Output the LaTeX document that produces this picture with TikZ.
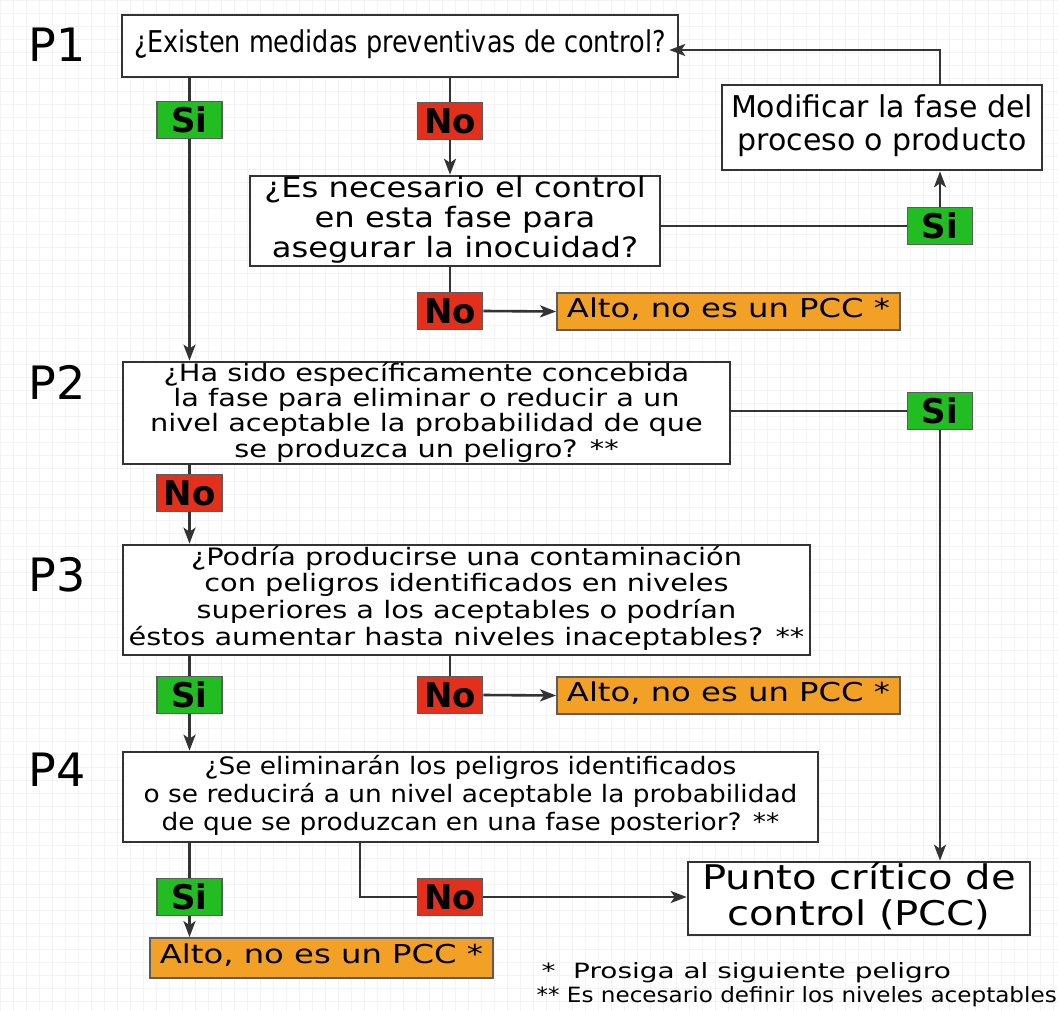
\documentclass[tikz,border=0pt]{standalone}
\usepackage{fontspec}
\usepackage{graphicx}
\setmainfont{DejaVu Sans}
\usetikzlibrary{arrows.meta}

\definecolor{linec}{HTML}{333333}
\definecolor{sigreen}{HTML}{22BD22}
\definecolor{nored}{HTML}{E2301C}
\definecolor{altoor}{HTML}{F2A126}
\definecolor{gridc}{HTML}{F3F3F3}

% horizontally scaled, centred block of lines
\newcommand\blk[4]{\scalebox{#1}[1]{\fontsize{#2}{#3}\selectfont\begin{tabular}{@{}c@{}}#4\end{tabular}}}

\tikzset{
  qbox/.style={draw=linec, line width=2.6pt, fill=white, inner sep=0pt},
  sz/.style 2 args={minimum width=#1, minimum height=#2},
  tag/.style={draw=linec!80, line width=1.6pt, inner sep=0pt,
    minimum width=65pt, minimum height=37pt,
    font=\fontsize{34}{34}\selectfont\bfseries},
  sitag/.style={tag, fill=sigreen},
  notag/.style={tag, fill=nored},
  altobox/.style={draw=linec!80, line width=1.8pt, fill=altoor, inner sep=0pt,
    minimum width=343pt, minimum height=37pt},
  plabel/.style={font=\fontsize{46}{46}\selectfont},
  conn/.style={draw=linec, line width=2.6pt},
  arr/.style={conn, -{Stealth[length=16pt, width=12pt, inset=4pt]}}
}

\begin{document}
\begin{tikzpicture}[x=1pt, y=-1pt]
\useasboundingbox (0,0) rectangle (1058,1011);
\fill[white] (0,0) rectangle (1058,1011);
\draw[gridc, line width=0.6pt] (0,0) grid[step=13pt] (1058,1011);

% question labels
\node[plabel] (p1) at (57,45) {P1};
\node[plabel] (p2) at (57,382) {P2};
\node[plabel] (p3) at (57,575) {P3};
\node[plabel] (p4) at (57,770) {P4};

% question and action boxes
\node[qbox, sz={556pt}{62pt}] (q1) at (400,46)
  {\blk{0.85}{30}{30}{¿Existen medidas preventivas de control?}};
\node[qbox, sz={320pt}{85pt}] (mod) at (882,127.5)
  {\blk{1}{30}{33}{Modificar la fase del\\proceso o producto}};
\node[qbox, sz={410pt}{88pt}] (q1b) at (455,221)
  {\blk{1.15}{28}{29}{¿Es necesario el control\\en esta fase para\\asegurar la inocuidad?}};
\node[qbox, sz={607pt}{100pt}] (q2) at (426.5,413)
  {\blk{1.2}{24}{23.5}{¿Ha sido específicamente concebida\\la fase para eliminar o reducir a un\\nivel aceptable la probabilidad de que\\se produzca un peligro? **}};
\node[qbox, sz={687pt}{110pt}] (q3) at (466.5,600)
  {\blk{1.2}{24}{26}{¿Podría producirse una contaminación\\con peligros identificados en niveles\\superiores a los aceptables o podrían\\éstos aumentar hasta niveles inaceptables? **}};
\node[qbox, sz={695pt}{90pt}] (q4) at (470.5,797)
  {\blk{1.1}{24}{28}{¿Se eliminarán los peligros identificados\\o se reducirá a un nivel aceptable la probabilidad\\de que se produzcan en una fase posterior? **}};
\node[qbox, sz={342pt}{73pt}] (pcc) at (859,898.5)
  {\blk{1.18}{34}{33}{Punto crítico de\\control (PCC)}};

% stop boxes
\node[altobox] (alto1) at (728.5,311.5) {\blk{1.24}{26}{26}{Alto, no es un PCC *}};
\node[altobox] (alto2) at (728.5,695.5) {\blk{1.24}{26}{26}{Alto, no es un PCC *}};
\node[altobox, minimum height=40pt] (alto3) at (321.5,958) {\blk{1.24}{26}{26}{Alto, no es un PCC *}};

% answer tags
\node[sitag] (siA) at (189.5,120) {Si};
\node[notag] (noA) at (450,121) {No};
\node[sitag] (siB) at (940,226) {Si};
\node[notag] (noB) at (450,311) {No};
\node[sitag] (siC) at (940,411) {Si};
\node[notag] (noC) at (189.5,493) {No};
\node[sitag] (siD) at (189.5,695) {Si};
\node[notag] (noD) at (450,695) {No};
\node[sitag] (siE) at (189.5,897) {Si};
\node[notag] (noE) at (450,897) {No};

\coordinate (bend) at (360,897);

% connectors
\draw[conn] (q1.south -| siA) -- (siA.north);
\draw[arr] (siA.south) -- (siA |- q2.north);
\draw[conn] (q1.south -| noA) -- (noA.north);
\draw[arr] (noA.south) -- (noA |- q1b.north);
\draw[conn] (q1b.east |- siB) -- (siB.west);
\draw[arr] (siB.north) -- (siB |- mod.south);
\draw[arr] (mod.north -| siB) |- ([xshift=-10pt,yshift=-4pt]q1.east);
\draw[conn] (q1b.south -| noB) -- (noB.north);
\draw[arr] (noB.east) -- (alto1.west);

\draw[conn] (q2.east |- siC) -- (siC.west);
\draw[arr] (siC.south) -- (siC |- pcc.north);
\draw[conn] (q2.south -| noC) -- (noC.north);
\draw[arr] (noC.south) -- (noC |- q3.north);

\draw[conn] (q3.south -| siD) -- (siD.north);
\draw[arr] (siD.south) -- (siD |- q4.north);
\draw[conn] (q3.south -| noD) -- (noD.north);
\draw[arr] (noD.east) -- (alto2.west);

\draw[conn] (q4.south -| siE) -- (siE.north);
\draw[arr] (siE.south) -- (siE |- alto3.north);
\draw[conn] (q4.south -| bend) |- (noE.west);
\draw[arr] (noE.east) -- (pcc.west |- noE);

% footnotes
\node[anchor=west] (fn1) at (538,973) {\scalebox{1.33}[1]{\fontsize{21}{21}\selectfont *~~Prosiga al siguiente peligro}};
\node[anchor=west] (fn2) at (533,997) {\scalebox{1.1}[1]{\fontsize{21}{21}\selectfont **~Es necesario definir los niveles aceptables}};
\end{tikzpicture}
\end{document}
